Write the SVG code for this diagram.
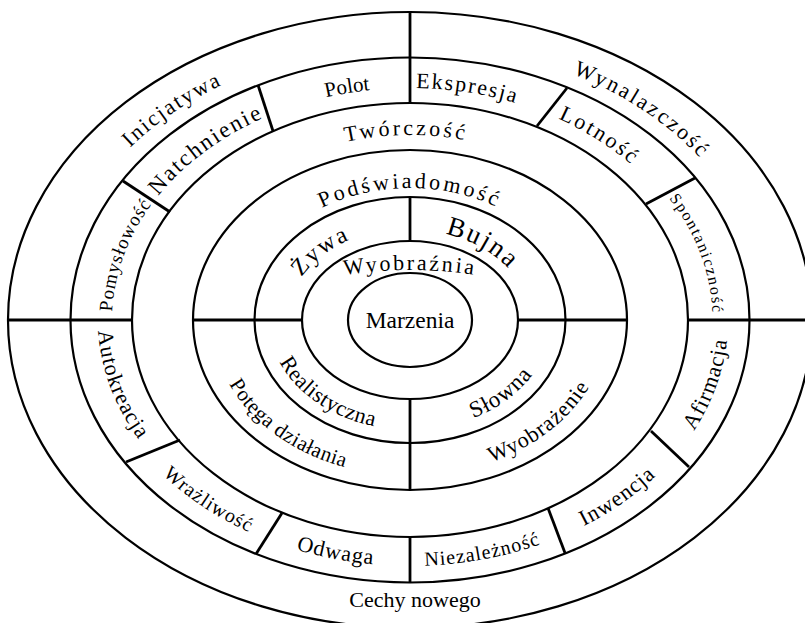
<svg xmlns="http://www.w3.org/2000/svg" xmlns:xlink="http://www.w3.org/1999/xlink" width="805" height="623" viewBox="0 0 805 623">
<style>
.ring{fill:none;stroke:#000;stroke-width:2.2}
.dv{stroke:#000;stroke-width:2.8;fill:none}
text{font-family:"Liberation Serif","Times New Roman",serif;fill:#000;font-size:22px}
</style>
<defs>
<path id="pPolot" d="M250.7 123.9 A298 232 0 0 1 449.9 90.1"/>
<path id="pEkspresja" d="M339.9 94.5 A298 232 0 0 1 586.8 133.3"/>
<path id="pLotnosc" d="M487.6 96.0 A298 232 0 0 1 680.3 222.3"/>
<path id="pSpont" d="M639.1 166.3 A302.6 235.2 0 0 1 708.7 357.6"/>
<path id="pPomysl" d="M112.8 337.0 A298 232 0 0 1 168.3 184.3"/>
<path id="pNatch" d="M131.2 238.0 A298 232 0 0 1 311.5 101.0"/>
<path id="pAfirm" d="M669.5 462.2 A318 246 0 0 0 726.9 299.9"/>
<path id="pInwen" d="M532.2 547.1 A318 246 0 0 0 692.3 433.2"/>
<path id="pNiezal" d="M364.7 563.5 A318 246 0 0 0 596.0 519.5"/>
<path id="pOdwaga" d="M241.5 528.6 A318 246 0 0 0 432.2 565.4"/>
<path id="pWraz" d="M125.6 430.2 A318 246 0 0 0 304.4 552.0"/>
<path id="pAuto" d="M99.8 293.9 A312 242 0 0 0 163.5 468.3"/>
<path id="pInic" d="M87.4 199.8 A358.3 276.2 0 0 1 286.3 60.8"/>
<path id="pWynal" d="M512.4 55.3 A358.3 276.2 0 0 1 738.8 210.3"/>
<path id="pTworcz" d="M288.2 161.4 A236.5 185 0 0 1 524.7 158.2"/>
<path id="pPodsw" d="M291.9 226.7 A167 132 0 0 1 528.1 226.7"/>
<path id="pPotega" d="M215.4 350.8 A198.5 155.9 0 0 0 380.3 474.2"/>
<path id="pWyobrazenie" d="M462.7 470.3 A198.5 155.9 0 0 0 602.1 359.3"/>
<path id="pZywa" d="M290.8 299.3 A122.3 92.2 0 0 1 374.2 231.8"/>
<path id="pBujna" d="M416.7 230.1 A119.9 90 0 0 1 524.8 294.0"/>
<path id="pRealist" d="M269.9 334.1 A141.3 109.8 0 0 0 403.6 429.7"/>
<path id="pSlowna" d="M445.9 426.2 A141.3 109.8 0 0 0 546.3 349.0"/>
<path id="pWyobraznia" d="M295.1 287.9 A150 50 0 0 1 524.9 287.9"/>
</defs>
<rect x="0" y="0" width="805" height="623" fill="#fff"/>
<g id="rings">
<ellipse class="ring" cx="410" cy="320" rx="402" ry="308"/>
<ellipse class="ring" cx="410" cy="320" rx="339.5" ry="262.5"/>
<ellipse class="ring" cx="410" cy="320" rx="278" ry="217"/>
<ellipse class="ring" cx="410" cy="320" rx="217" ry="170"/>
<ellipse class="ring" cx="410" cy="320" rx="155.5" ry="123"/>
<ellipse class="ring" cx="410" cy="320" rx="108" ry="79"/>
<ellipse class="ring" cx="410" cy="320" rx="62" ry="47"/>
</g>
<g id="connectors">
<line class="dv" x1="410" y1="12" x2="410" y2="103"/>
<line class="dv" x1="410" y1="197" x2="410" y2="241"/>
<line class="dv" x1="410" y1="399" x2="410" y2="490"/>
<line class="dv" x1="410" y1="537" x2="410" y2="582"/>
<line class="dv" x1="8" y1="320" x2="132" y2="320"/>
<line class="dv" x1="193" y1="320" x2="302" y2="320"/>
<line class="dv" x1="518" y1="320" x2="627" y2="320"/>
<line class="dv" x1="688" y1="320" x2="805" y2="320"/>
<line class="dv" x1="273" y1="131" x2="258" y2="85"/>
<line class="dv" x1="170" y1="212" x2="123" y2="181"/>
<line class="dv" x1="537" y1="126" x2="567" y2="88"/>
<line class="dv" x1="646" y1="204" x2="695" y2="178"/>
<line class="dv" x1="651" y1="431" x2="689" y2="467"/>
<line class="dv" x1="548" y1="508" x2="565" y2="553"/>
<line class="dv" x1="282" y1="513" x2="256" y2="554"/>
<line class="dv" x1="180" y1="440" x2="126" y2="462"/>
</g>
<g id="marzenia"><text x="410" y="328" text-anchor="middle" style="font-size:23.5px">Marzenia</text></g>
<g id="wyobraznia"><text text-anchor="middle" letter-spacing="2.5"><textPath href="#pWyobraznia" startOffset="50%">Wyobraźnia</textPath></text></g>
<g id="zywa"><text text-anchor="middle" letter-spacing="2" style="font-size:24px"><textPath href="#pZywa" startOffset="50%">Żywa</textPath></text></g>
<g id="bujna"><text text-anchor="middle" letter-spacing="2" style="font-size:27px"><textPath href="#pBujna" startOffset="50%">Bujna</textPath></text></g>
<g id="realistyczna"><text text-anchor="middle" letter-spacing="0.5"><textPath href="#pRealist" startOffset="50%">Realistyczna</textPath></text></g>
<g id="slowna"><text text-anchor="middle" letter-spacing="1" style="font-size:23px"><textPath href="#pSlowna" startOffset="50%">Słowna</textPath></text></g>
<g id="podswiadomosc"><text text-anchor="middle" letter-spacing="3"><textPath href="#pPodsw" startOffset="50%">Podświadomość</textPath></text></g>
<g id="potega"><text text-anchor="middle" letter-spacing="0.5" style="font-size:21px"><textPath href="#pPotega" startOffset="50%">Potęga działania</textPath></text></g>
<g id="wyobrazenie"><text text-anchor="middle" letter-spacing="1"><textPath href="#pWyobrazenie" startOffset="50%">Wyobrażenie</textPath></text></g>
<g id="tworczosc"><text text-anchor="middle" letter-spacing="3"><textPath href="#pTworcz" startOffset="50%">Twórczość</textPath></text></g>
<g id="polot"><text text-anchor="middle" style="font-size:21px"><textPath href="#pPolot" startOffset="50%">Polot</textPath></text></g>
<g id="ekspresja"><text text-anchor="middle" letter-spacing="1.8"><textPath href="#pEkspresja" startOffset="50%">Ekspresja</textPath></text></g>
<g id="lotnosc"><text text-anchor="middle" letter-spacing="2.5"><textPath href="#pLotnosc" startOffset="50%">Lotność</textPath></text></g>
<g id="spontanicznosc"><text text-anchor="middle" letter-spacing="1.8" style="font-size:16px"><textPath href="#pSpont" startOffset="50%">Spontaniczność</textPath></text></g>
<g id="afirmacja"><text text-anchor="middle" letter-spacing="1"><textPath href="#pAfirm" startOffset="50%">Afirmacja</textPath></text></g>
<g id="inwencja"><text text-anchor="middle" letter-spacing="1"><textPath href="#pInwen" startOffset="50%">Inwencja</textPath></text></g>
<g id="niezaleznosc"><text text-anchor="middle" letter-spacing="1" style="font-size:20px"><textPath href="#pNiezal" startOffset="50%">Niezależność</textPath></text></g>
<g id="odwaga"><text text-anchor="middle" letter-spacing="1"><textPath href="#pOdwaga" startOffset="50%">Odwaga</textPath></text></g>
<g id="wrazliwosc"><text text-anchor="middle" letter-spacing="1" style="font-size:20px"><textPath href="#pWraz" startOffset="50%">Wrażliwość</textPath></text></g>
<g id="autokreacja"><text text-anchor="middle" letter-spacing="1"><textPath href="#pAuto" startOffset="50%">Autokreacja</textPath></text></g>
<g id="pomyslowosc"><text text-anchor="middle" letter-spacing="1" style="font-size:19px"><textPath href="#pPomysl" startOffset="50%">Pomysłowość</textPath></text></g>
<g id="natchnienie"><text text-anchor="middle" letter-spacing="2" style="font-size:23px"><textPath href="#pNatch" startOffset="50%">Natchnienie</textPath></text></g>
<g id="inicjatywa"><text text-anchor="middle" letter-spacing="2"><textPath href="#pInic" startOffset="50%">Inicjatywa</textPath></text></g>
<g id="wynalazczosc"><text text-anchor="middle" letter-spacing="2.5"><textPath href="#pWynal" startOffset="50%">Wynalazczość</textPath></text></g>
<g id="cechy"><text x="415" y="607" text-anchor="middle">Cechy nowego</text></g>
</svg>
